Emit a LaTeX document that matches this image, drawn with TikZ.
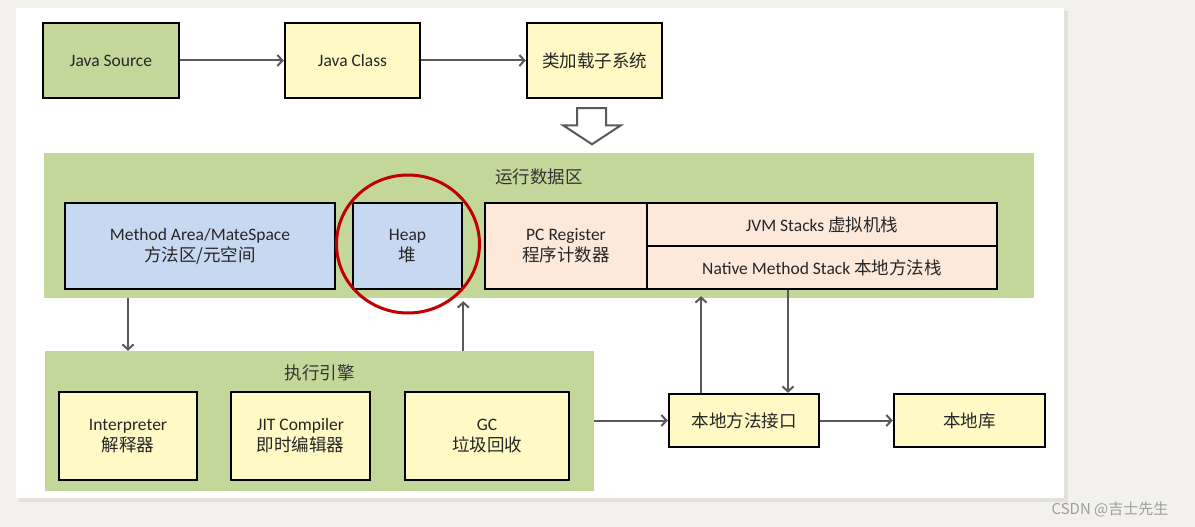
\documentclass[tikz,border=0pt]{standalone}
\usepackage{fontspec}
\setmainfont{Carlito}
\newfontfamily\cjk{Noto Sans CJK SC}
\newcommand\zh[1]{{\cjk #1}}
\usetikzlibrary{calc,arrows.meta}
\definecolor{pagegray}{HTML}{F2F1EE}
\definecolor{shadegray}{HTML}{E2E1DE}
\definecolor{areagreen}{HTML}{C4D79B}
\definecolor{boxyellow}{HTML}{FFF9C5}
\definecolor{boxblue}{HTML}{C6D9F0}
\definecolor{boxpeach}{HTML}{FDE9DA}
\definecolor{linkgray}{HTML}{595959}
\definecolor{circlered}{HTML}{C00000}
\def\drawlink{\draw[color=linkgray, line width=2pt, -{Straight Barb[length=5pt,width=11pt,line width=2pt]}]}
\def\blocknode{\node[draw=black, line width=2.5pt, inner sep=0pt, align=center, text=black!85, font=\fontsize{17.5}{21}\selectfont]}
\def\areanode{\node[fill=areagreen, inner sep=0pt]}

\begin{document}
\begin{tikzpicture}[x=1pt,y=-1pt]
\useasboundingbox (0,0) rectangle (1195,527);
\fill[pagegray] (0,0) rectangle (1195,527);
\fill[shadegray] (19,11) rectangle (1068,502);
\fill[white] (16,8) rectangle (1064,498); % paper

% ---------- class loading row
\blocknode[fill=areagreen, minimum width=136pt, minimum height=75pt] (src) at (111,60.5) {Java Source};
\blocknode[fill=boxyellow, minimum width=135pt, minimum height=75pt] (cls) at (352.5,60.5) {Java Class};
\blocknode[fill=boxyellow, minimum width=135pt, minimum height=75pt] (loader) at (594.5,60.5) {\zh{类加载子系统}};
\drawlink (src) to (cls);
\drawlink (cls) to (loader);

% hollow arrow down into the data area
\coordinate (tip) at ($ (loader.south) + (-2.5,45) $);
\draw[color=linkgray, line width=2pt, fill=white, line join=miter]
  ($ (tip) + (-15,-36) $) -- ($ (tip) + (14,-36) $) -- ($ (tip) + (14,-19) $) -- ($ (tip) + (29,-19) $)
  -- (tip) -- ($ (tip) + (-29,-19) $) -- ($ (tip) + (-15,-19) $) -- cycle;

% ---------- runtime data area
\areanode[minimum width=990pt, minimum height=145pt] (runtime) at (539,225.5) {};
\node[text=black!80, font=\fontsize{17.5}{21}\selectfont] (runlabel) at ($ (runtime.north) + (0,24) $) {\zh{运行数据区}};
\blocknode[fill=boxblue, minimum width=270pt, minimum height=86pt] (method) at (200,246) {Method Area/MateSpace\\\zh{方法区/元空间}};
\blocknode[fill=boxblue, minimum width=109pt, minimum height=86pt] (heap) at (407.5,246) {Heap\\\zh{堆}};
\blocknode[fill=boxpeach, minimum width=162pt, minimum height=86pt] (pc) at (566,246) {PC Register\\\zh{程序计数器}};
\blocknode[fill=boxpeach, minimum width=350pt, minimum height=43pt] (jvm) at (822,224.5) {JVM Stacks \zh{虚拟机栈}};
\blocknode[fill=boxpeach, minimum width=350pt, minimum height=43pt] (native) at (822,267.5) {Native Method Stack \zh{本地方法栈}};
\draw[color=circlered, line width=3pt] ($ (heap.center) + (0.5,-2) $) ellipse (71.5 and 69);

% ---------- execution engine
\areanode[minimum width=549pt, minimum height=140pt] (exec) at (319.5,421) {};
\node[text=black!80, font=\fontsize{17.5}{21}\selectfont] (execlabel) at ($ (exec.north) + (0,22) $) {\zh{执行引擎}};
\blocknode[fill=boxyellow, minimum width=138pt, minimum height=88pt] (interp) at (128,436) {Interpreter\\\zh{解释器}};
\blocknode[fill=boxyellow, minimum width=139pt, minimum height=88pt] (jit) at (300.5,436) {JIT Compiler\\\zh{即时编辑器}};
\blocknode[fill=boxyellow, minimum width=164pt, minimum height=88pt] (gc) at (487,436) {GC\\\zh{垃圾回收}};

% ---------- native side
\blocknode[fill=boxyellow, minimum width=150pt, minimum height=53pt] (jni) at (744,420.5) {\zh{本地方法接口}};
\blocknode[fill=boxyellow, minimum width=151pt, minimum height=53pt] (lib) at (969.5,420.5) {\zh{本地库}};

% ---------- links between areas
\coordinate (mdown) at (128,0);
\coordinate (jup) at (701,0);
\coordinate (jdown) at (788,0);
\drawlink (runtime.south -| mdown) to (exec.north -| mdown);
\drawlink (exec.north -| heap.south east) to ($ (runtime.south -| heap.south east) + (0,3) $);
\drawlink (exec.east |- jni.west) to (jni.west);
\drawlink (jni.east) to (lib.west);
\drawlink (jni.north -| jup) to ($ (runtime.south -| jup) + (0,-2) $);
\drawlink (native.south -| jdown) to (jni.north -| jdown);

\node[text=black!38, font=\cjk\fontsize{15}{18}\selectfont] (mark) at (1110,509) {CSDN @吉士先生};
\end{tikzpicture}
\end{document}
